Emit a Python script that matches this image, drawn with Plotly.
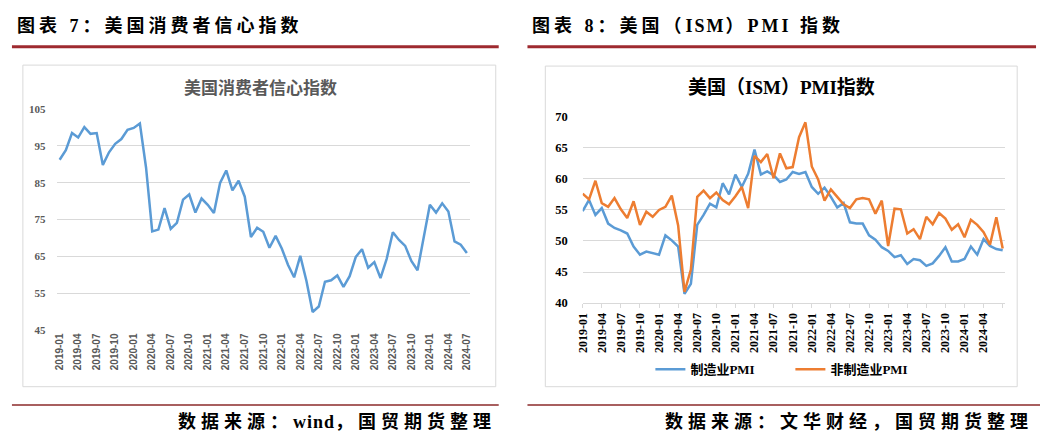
import plotly.graph_objects as go

W, H = 1042, 446

# ---------------- data ----------------
months = [f"{y}-{m:02d}" for y in range(2019, 2025) for m in range(1, 13)][:67]

# University of Michigan consumer sentiment (left chart)
sentiment = [
    91.2, 93.8, 98.4, 97.2, 100.0, 98.2, 98.4, 89.8, 93.2, 95.5, 96.8, 99.3,
    99.8, 101.0, 89.1, 71.8, 72.3, 78.1, 72.5, 74.1, 80.4, 81.8, 76.9, 80.7,
    79.0, 76.8, 84.9, 88.3, 82.9, 85.5, 81.2, 70.3, 72.8, 71.7, 67.4, 70.6,
    67.2, 62.8, 59.4, 65.2, 58.4, 50.0, 51.5, 58.2, 58.6, 59.9, 56.8, 59.7,
    64.9, 67.0, 62.0, 63.5, 59.2, 64.4, 71.6, 69.5, 67.9, 63.8, 61.3, 69.7,
    79.0, 76.9, 79.4, 77.2, 69.1, 68.2, 66.0,
]

# ISM manufacturing PMI (right chart, blue)
pmi_mfg = [
    54.8, 56.6, 54.2, 55.3, 52.8, 52.1, 51.7, 51.2, 49.1, 47.8, 48.3, 48.1,
    47.8, 50.9, 50.1, 49.1, 41.5, 43.1, 52.6, 54.2, 56.0, 55.4, 59.3, 57.5,
    60.7, 58.7, 60.8, 64.7, 60.7, 61.2, 60.6, 59.5, 59.9, 61.1, 60.8, 61.1,
    58.7, 57.6, 58.6, 57.1, 55.4, 56.1, 53.0, 52.8, 52.8, 50.9, 50.2, 49.0,
    48.4, 47.4, 47.7, 46.3, 47.1, 46.9, 46.0, 46.4, 47.6, 49.0, 46.7, 46.7,
    47.1, 49.1, 47.8, 50.3, 49.2, 48.7, 48.5,
]

# ISM non-manufacturing PMI (right chart, orange)
pmi_svc = [
    57.6, 56.7, 59.7, 56.1, 55.5, 56.9, 55.1, 53.7, 56.4, 52.6, 54.7, 53.9,
    55.0, 55.5, 57.3, 52.5, 41.8, 45.4, 57.1, 58.1, 56.9, 57.8, 56.6, 55.9,
    57.2, 58.7, 55.3, 63.7, 62.7, 64.0, 60.1, 64.1, 61.7, 61.9, 66.7, 69.1,
    62.0, 59.9, 56.5, 58.3, 57.1, 55.9, 55.3, 56.7, 56.9, 56.7, 54.4, 56.5,
    49.2, 55.2, 55.1, 51.2, 51.9, 50.3, 53.9, 52.7, 54.5, 53.6, 51.8, 52.7,
    50.6, 53.4, 52.6, 51.4, 49.4, 53.8, 48.8,
]

left_ticks = months[::3]
left_ticktext = left_ticks
right_ticks = months[::3]
right_ticktext = months[::3][:-1] + [""]

left_yticks = [45, 55, 65, 75, 85, 95, 105]
right_yticks = [40, 45, 50, 55, 60, 65, 70]

header_left = ["图表 7：美国消费者信心指数"]
header_right = ["图表 8：美国（", "ISM", "）", "PMI", " 指数"]
title_left = "美国消费者信心指数"
title_right = "美国（ISM）PMI指数"
footer_left = ["数据来源：", "wind", "，国贸期货整理"]
footer_right = ["数据来源：文华财经，国贸期货整理"]
name_mfg = "制造业PMI"
name_svc = "非制造业PMI"

BLUE = "#5B9BD5"
ORANGE = "#ED7D31"
GRID = "#D9D9D9"
RED = "#9E2A2F"
CJK = "Liberation Serif, Noto Sans CJK SC"


def px(x):
    return x / W


def py(y):
    return 1 - y / H


fig = go.Figure()
fig.add_trace(go.Scatter(x=months, y=sentiment, mode="lines", showlegend=False,
                         line=dict(color=BLUE, width=2.5), xaxis="x", yaxis="y"))
fig.add_trace(go.Scatter(x=months, y=pmi_mfg, mode="lines", name=name_mfg,
                         line=dict(color=BLUE, width=2.5), xaxis="x2", yaxis="y2"))
fig.add_trace(go.Scatter(x=months, y=pmi_svc, mode="lines", name=name_svc,
                         line=dict(color=ORANGE, width=2.5), xaxis="x2", yaxis="y2"))

fig.update_layout(
    width=W, height=H,
    margin=dict(l=0, r=0, t=0, b=0),
    paper_bgcolor="white", plot_bgcolor="white",
    xaxis=dict(domain=[px(50), px(467)], anchor="y", type="category",
               range=[-0.5, 66.5], tickmode="array", tickvals=left_ticks,
               ticktext=left_ticktext, tickangle=-90, showgrid=False,
               showline=False, ticks="", zeroline=False,
               tickfont=dict(family="Liberation Sans", size=10, color="#595959", weight="bold")),
    yaxis=dict(domain=[py(334), py(105)], anchor="x", range=[45, 105],
               tickmode="array", tickvals=left_yticks, showgrid=True,
               gridcolor=GRID, gridwidth=1.3, zeroline=False, showline=False,
               ticks="", ticklabelstandoff=10,
               tickfont=dict(family="Liberation Serif", size=11, color="#595959", weight="bold")),
    xaxis2=dict(domain=[px(580.7), px(1006.3)], anchor="y2", type="category",
                range=[0, 66.3], tickmode="array", tickvals=right_ticks,
                ticktext=right_ticktext, tickangle=-90, showgrid=False,
                showline=True, linecolor=GRID, linewidth=1, ticks="outside",
                ticklen=4, tickcolor=GRID, zeroline=False,
                tickfont=dict(family="Liberation Serif", size=12, color="black", weight="bold")),
    yaxis2=dict(domain=[py(305.7), py(113.3)], anchor="x2", range=[40, 70],
                tickmode="array", tickvals=right_yticks, showgrid=True,
                gridcolor=GRID, gridwidth=1, zeroline=False, showline=False,
                ticks="", ticklabelstandoff=14,
                tickfont=dict(family="Liberation Serif", size=12.5, color="black", weight="bold")),
    legend=dict(orientation="h", x=px(649), xanchor="left", y=py(374),
                yanchor="middle", itemwidth=30, entrywidth=95, entrywidthmode="pixels",
                font=dict(family=CJK, size=13, color="black", weight="bold"),
                bgcolor="rgba(0,0,0,0)"),
)


def spaced(parts, spacings):
    return "".join(f'<span style="letter-spacing:{s}px">{t}</span>'
                   for t, s in zip(parts, spacings))


annos = [
    dict(text=spaced(header_left, [4]), x=px(8), y=py(19.5), xanchor="left",
         font=dict(family=CJK, size=18, color="black", weight="bold")),
    dict(text=spaced(header_right, [4, 2, 4, 3, 4]), x=px(528), y=py(19.5), xanchor="left",
         font=dict(family=CJK, size=18, color="black", weight="bold")),
    dict(text=title_left, x=px(256), y=py(82), xanchor="center",
         font=dict(family="Noto Sans CJK SC", size=17, color="#595959", weight="bold")),
    dict(text=title_right, x=px(781), y=py(83), xanchor="center",
         font=dict(family=CJK, size=19, color="black", weight="bold")),
    dict(text=spaced(footer_left, [5, 1, 5]), x=px(495), y=py(428), xanchor="right",
         font=dict(family=CJK, size=18, color="black", weight="bold")),
    dict(text=spaced(footer_right, [5]), x=px(1037), y=py(428), xanchor="right",
         font=dict(family=CJK, size=18, color="black", weight="bold")),
]
for a in annos:
    a.update(xref="paper", yref="paper", yanchor="middle", showarrow=False)
    fig.add_annotation(**a)

shapes = [
    # header rules
    dict(type="line", x0=px(5), x1=px(496), y0=py(41), y1=py(41), line=dict(color=RED, width=3)),
    dict(type="line", x0=px(525), x1=px(1038), y0=py(41), y1=py(41), line=dict(color=RED, width=3)),
    # footer rules
    dict(type="line", x0=px(5), x1=px(496), y0=py(411), y1=py(411), line=dict(color="#8B2A2A", width=1.5)),
    dict(type="line", x0=px(525), x1=px(1042), y0=py(411), y1=py(411), line=dict(color="#8B2A2A", width=1.5)),
    # chart frames
    dict(type="rect", x0=px(16), x1=px(493), y0=py(392), y1=py(60), line=dict(color=GRID, width=1)),
    dict(type="rect", x0=px(543), x1=px(1019), y0=py(392), y1=py(61), line=dict(color=GRID, width=1)),
]
for s in shapes:
    s.update(xref="paper", yref="paper", layer="below")
    fig.add_shape(**s)

fig.write_html(
    "out.html",
    config={"displayModeBar": False, "staticPlot": True},
    post_script="document.documentElement.style.margin='0';document.body.style.margin='0';"
                "document.body.style.padding='0';document.body.style.overflow='hidden';",
)
